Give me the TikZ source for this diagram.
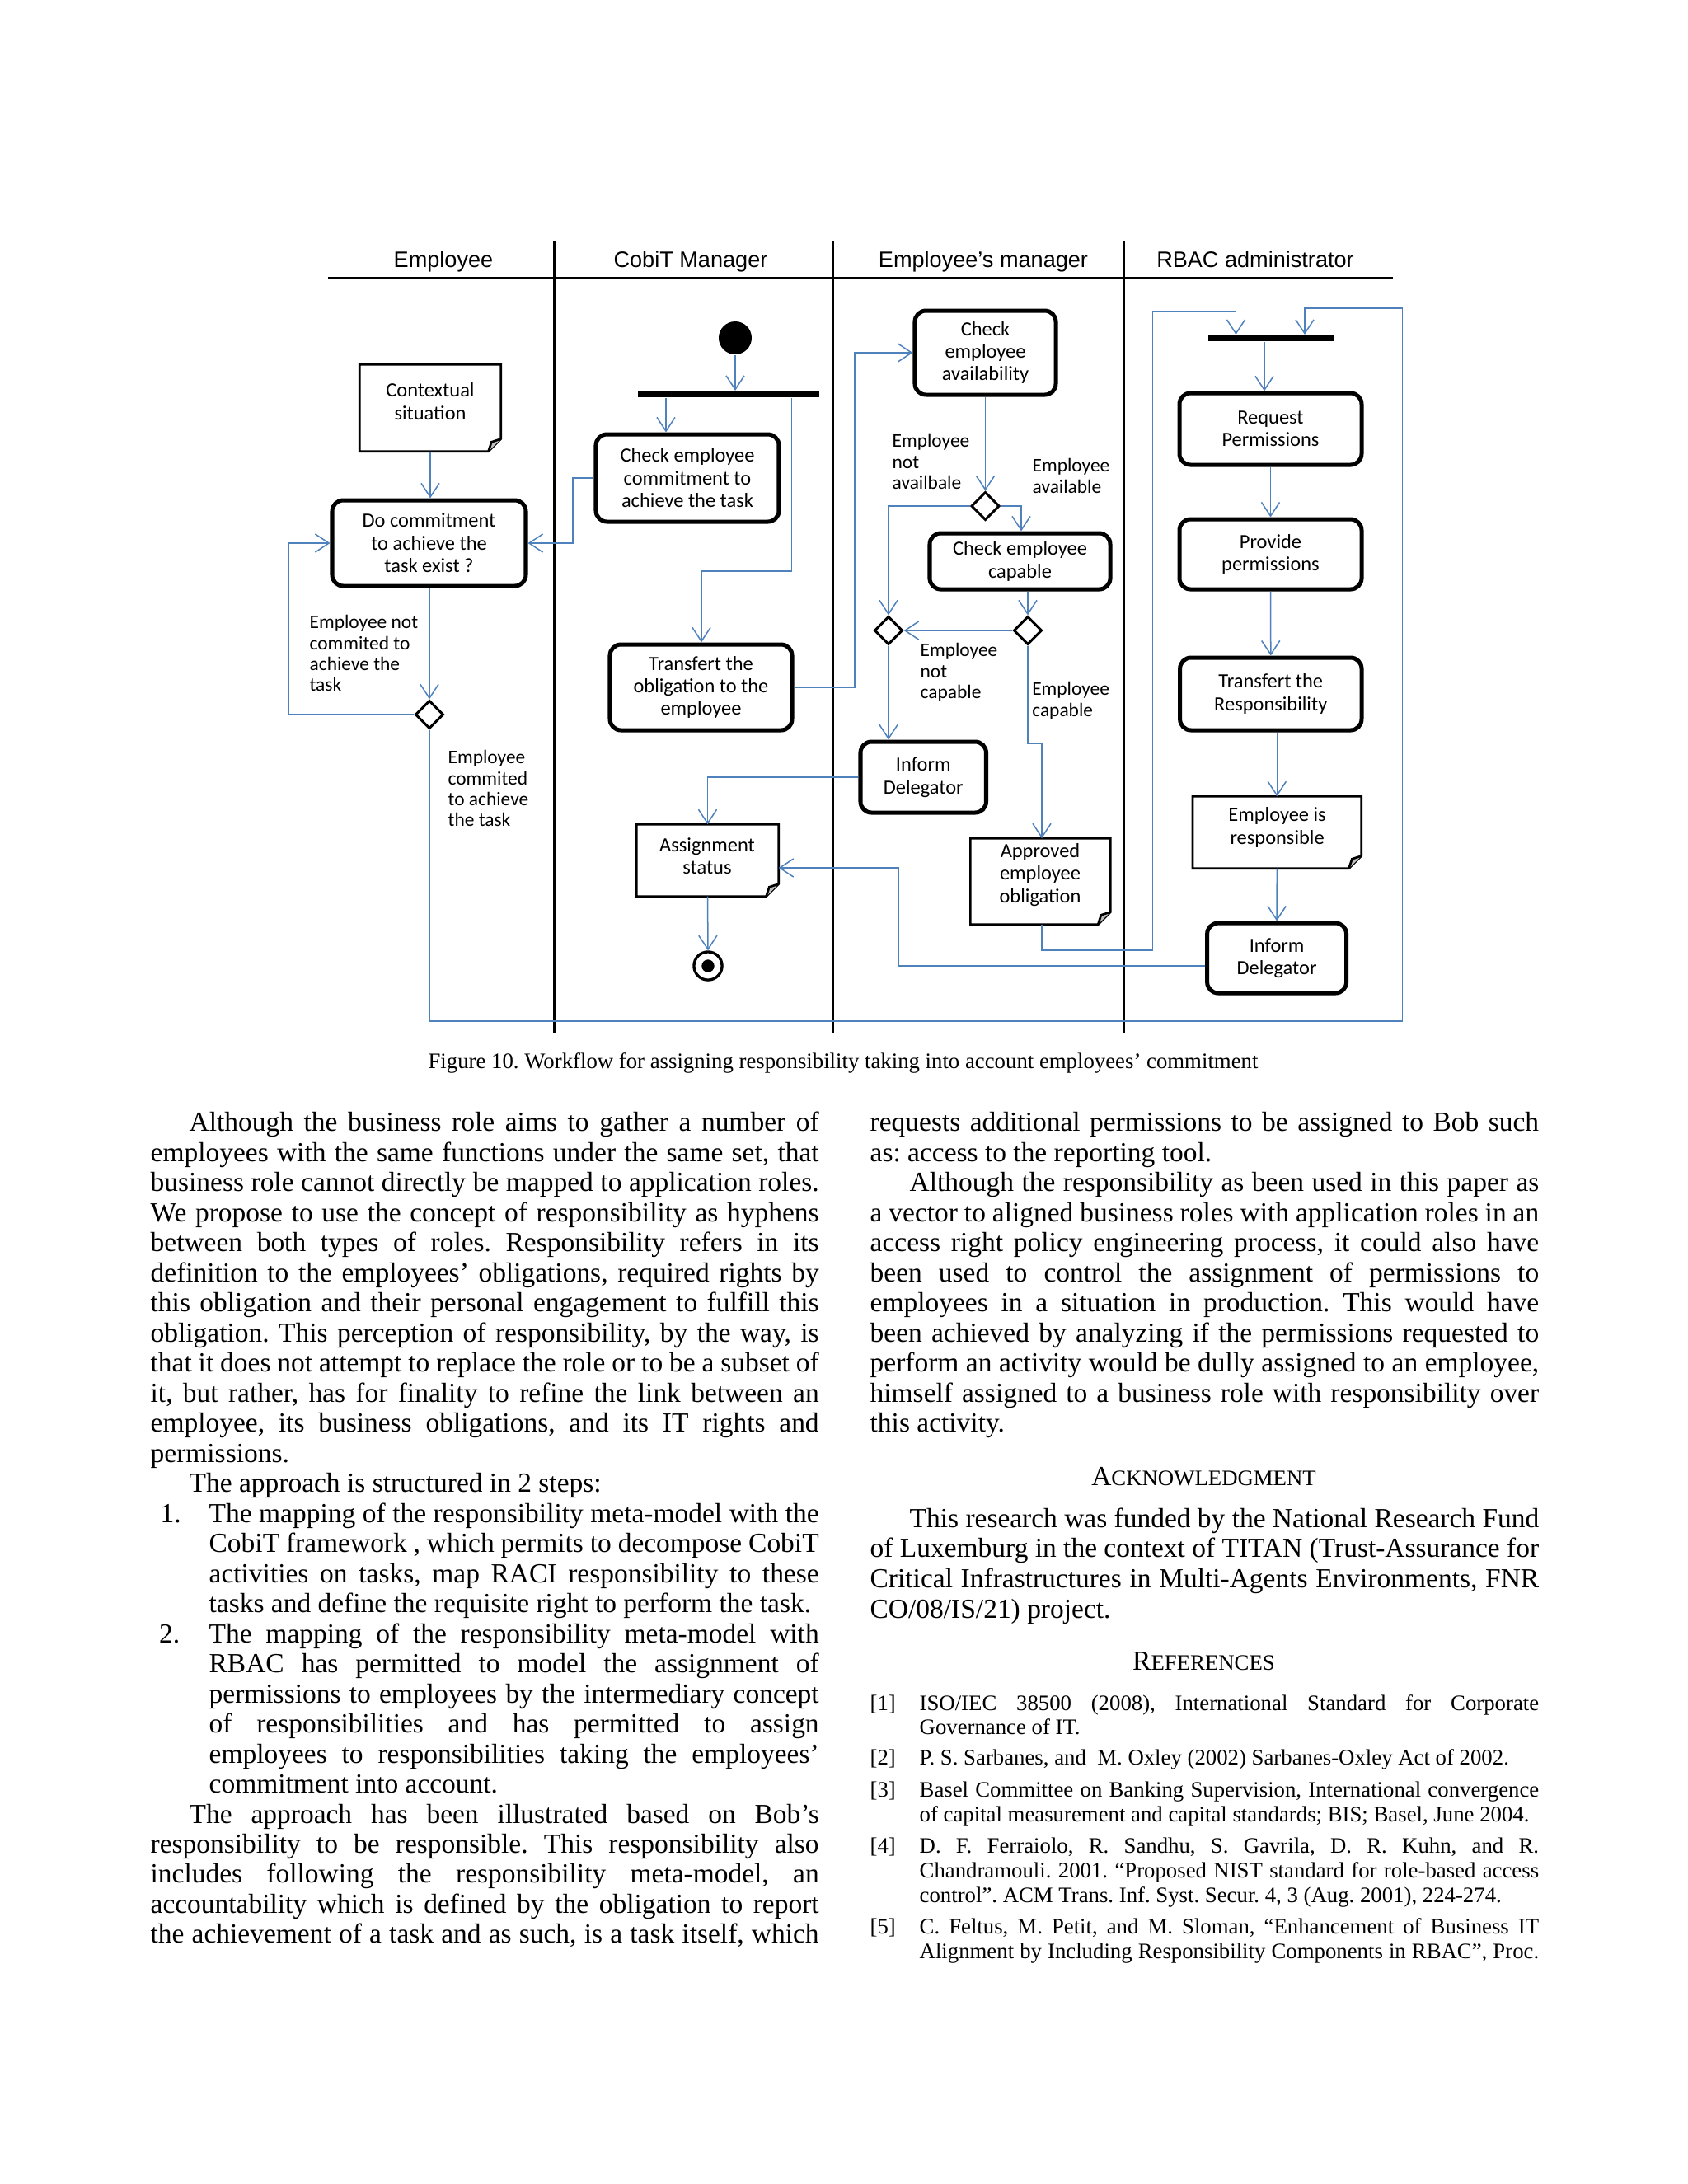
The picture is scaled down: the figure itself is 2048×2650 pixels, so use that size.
\documentclass[tikz,border=0pt]{standalone}
\usepackage{fontspec}
\setmainfont{Liberation Serif}
\newfontfamily\carl{Carlito}
\newfontfamily\arl{Liberation Sans}
\usetikzlibrary{arrows.meta,shapes.geometric}
\definecolor{flowblue}{HTML}{4F81BD}
\frenchspacing
\newcommand\actnode[6]{%
  \pgfmathsetmacro\bw{(#4-#2)*0.29883}%
  \pgfmathsetmacro\bh{(#5-#3)*0.29883}%
  \node[act,minimum width=\bw pt,minimum height=\bh pt] (#1) at ({(#2+#4)/2},{(#3+#5)/2}) {#6};}
\newcommand\notenode[8]{%
  \pgfmathsetmacro\bw{(#4-#2)*0.29883}%
  \pgfmathsetmacro\bh{(#5-#3)*0.29883}%
  \node[notebg,minimum width=\bw pt,minimum height=\bh pt] (#1) at ({(#2+#4)/2},{(#3+#5)/2}) {};
  \draw[noteline] (#1.north west) -- (#1.north east) -- ([yshift=4.5pt]#1.south east)
     -- ([xshift=-4.5pt]#1.south east) -- (#1.south west) -- cycle;
  \draw[noteline,fill=black!25] ([xshift=-4.5pt]#1.south east) -- ([xshift=-3.4pt,yshift=3.4pt]#1.south east)
     -- ([yshift=4.5pt]#1.south east);
  \node[ntext] (#1t) at (#6,#7) {#8};}
\newcommand\JL[6]{\node[#1] (#2) at (#3,#4) {\hbox to #5pt{#6}};}
\newcommand\RL[5]{\node[#1] (#2) at (#3,#4) {#5};}
\begin{document}
\begin{tikzpicture}[x=0.29883pt,y=-0.29883pt,
 act/.style={draw,line width=1.5pt,rounded corners=4pt,inner sep=0pt,align=center,font=\carl\fontsize{7.3}{8.2}\selectfont},
 notebg/.style={inner sep=0pt},
 noteline/.style={line width=0.8pt},
 ntext/.style={inner sep=0pt,align=center,font=\carl\fontsize{7.3}{8.2}\selectfont},
 lbl/.style={inner sep=0pt,align=left,anchor=north west,font=\carl\fontsize{7}{7.5}\selectfont},
 hdr/.style={inner sep=0pt,anchor=base,font=\arl\fontsize{8.1}{9.7}\selectfont},
 flow/.style={draw=flowblue,line width=0.45pt},
 arr/.style={flow,-{Straight Barb[length=5pt,width=6.6pt]}},
 dec/.style={diamond,draw,line width=0.9pt,inner sep=0pt,minimum width=10.2pt,minimum height=10.2pt},
 bar/.style={fill=black,inner sep=0pt,minimum height=2.3pt},
 lane/.style={line width=0.9pt},
 body/.style={inner sep=0pt,anchor=base west,font=\fontsize{10}{12}\selectfont},
 refs/.style={inner sep=0pt,anchor=base west,font=\fontsize{8}{9}\selectfont},
]
\fill[white] (0,0) rectangle (2048,2650);
\useasboundingbox (0,0) rectangle (2048,2650);

% ---------- swimlanes ----------
\draw[lane] (398,337) -- (1690,337);
\draw[lane] (673,293) -- (673,1253);
\draw[lane] (1010.5,293) -- (1010.5,1253);
\draw[lane] (1363,293) -- (1363,1253);
\node[hdr] (h1) at (538,324) {Employee};
\node[hdr] (h2) at (838,324) {CobiT Manager};
\node[hdr] (h3) at (1193,324) {Employee’s manager};
\node[hdr] (h4) at (1523,324) {RBAC administrator};

% ---------- nodes ----------
\node[circle,fill=black,inner sep=0pt,minimum size=11.95pt] (init) at (892,410) {};
\node[bar,minimum width=65.74pt] (bar1) at (884,478.5) {};
\node[bar,minimum width=45.27pt] (bar2) at (1541.75,410.5) {};

\actnode{chkcom}{723}{527}{945}{633}{Check employee\\commitment to\\achieve the task}
\actnode{docom}{403}{607}{638}{711}{Do commitment\\to achieve the\\task exist ?}
\actnode{trob}{740}{782}{961}{886}{Transfert the\\obligation to the\\employee}
\actnode{chkav}{1110}{377}{1281}{479}{Check\\employee\\availability}
\actnode{chkcap}{1128}{647}{1347}{715}{Check employee\\capable}
\actnode{infd1}{1044}{900}{1196.5}{986}{Inform\\Delegator}
\actnode{reqp}{1431}{477}{1652}{564}{Request\\Permissions}
\actnode{prov}{1431}{630}{1652}{715}{Provide\\permissions}
\actnode{trr}{1431.6}{798}{1652}{886}{Transfert the\\Responsibility}
\actnode{infd2}{1464.6}{1120}{1633.6}{1205}{Inform\\Delegator}

\notenode{cs}{437}{443}{607}{547}{522}{487}{Contextual\\situation}
\notenode{asg}{773}{1001}{944}{1087}{858}{1038.5}{Assignment\\status}
\notenode{appr}{1178}{1018}{1346.6}{1121}{1262}{1061.5}{Approved\\employee\\obligation}
\notenode{eir}{1447.6}{967}{1651}{1053}{1549.6}{1004}{Employee is\\responsible}

\node[dec] (dec1) at (521,867) {};
\node[dec] (dec2) at (1195.5,614) {};
\node[dec] (dec3) at (1078,765) {};
\node[dec] (dec4) at (1247,765) {};

\node[circle,draw,line width=1pt,inner sep=0pt,minimum size=10.2pt] (fin) at (859,1172) {};
\fill (fin.center) circle[radius=2.3pt];

\node[lbl] (l1) at (375,746) {Employee not\\commited to\\achieve the\\task};
\node[lbl] (l2) at (543,910) {Employee\\commited\\to achieve\\the task};
\node[lbl] (l3) at (1082,526) {Employee\\not\\availbale};
\node[lbl] (l4) at (1252,556) {Employee\\available};
\node[lbl] (l5) at (1116,780) {Employee\\not\\capable};
\node[lbl] (l6) at (1251.6,827) {Employee\\capable};

% ---------- connectors ----------
\coordinate (k808) at (808,0);
\coordinate (b3a) at (960.5,693); \coordinate (b3b) at (851,693);
\coordinate (b5) at (695,659);
\coordinate (b7) at (350,659);
\coordinate (b8a) at (1701.5,1239); \coordinate (b8b) at (1701.5,374); \coordinate (b8c) at (1583,374);
\coordinate (b9) at (1037,428);
\coordinate (k1239) at (1239,0);
\coordinate (b18) at (1264,902);
\coordinate (b19a) at (1398.5,1153); \coordinate (b19b) at (1398.5,378); \coordinate (b19c) at (1499.5,378);
\coordinate (k1534) at (1534,0);
\coordinate (b25a) at (1090.5,1172); \coordinate (b25b) at (1090.5,1053);

\draw[arr] (init.south) -- (init.south |- bar1.north);
\draw[arr] (bar1.south -| k808) -- (chkcom.north -| k808);
\draw[arr] (bar1.south -| b3a) -- (b3a) -- (b3b) -- (b3b |- trob.north);
\draw[arr] (cs.south) -- (cs.south |- docom.north);
\draw[arr] (chkcom.west) -| (b5) -- (docom.east);
\draw[arr] (docom.south -| dec1.north) -- (dec1.north);
\draw[arr] (dec1.west) -| (b7) -- (docom.west);
\draw[arr] (dec1.south) |- (b8a) -- (b8b) -- (b8c) -- (b8c |- bar2.north);
\draw[arr] (trob.east) -| (b9) -- (chkav.west);
\draw[arr] (chkav.south -| dec2.north) -- (dec2.north);
\draw[arr] (dec2.east) -| (chkcap.north -| k1239);
\draw[arr] (dec2.west) -| (dec3.north);
\draw[arr] (chkcap.south -| dec4.north) -- (dec4.north);
\draw[arr] (dec4.west) -- (dec3.east);
\draw[arr] (dec3.south) -- (dec3.south |- infd1.north);
\draw[arr] (infd1.west) -| (asg.north);
\draw[arr] (asg.south) -- (fin.north);
\draw[arr] (dec4.south) |- (b18) -- (b18 |- appr.north);
\draw[arr] (appr.south -| b18) |- (b19a) -- (b19b) -- (b19c) -- (b19c |- bar2.north);
\draw[arr] (bar2.south -| k1534) -- (reqp.north -| k1534);
\draw[arr] (reqp.south) -- (prov.north);
\draw[arr] (prov.south) -- (trr.north);
\draw[arr] (trr.south -| eir.north) -- (eir.north);
\draw[arr] (eir.south) -- (infd2.north);
\draw[arr] (b25a -| infd2.west) -- (b25a) -- (b25b) -- (b25b -| asg.east);

% ---------- caption ----------
\node[inner sep=0pt,anchor=base,font=\fontsize{8}{9.6}\selectfont] (cap) at (1023,1296.7)
  {Figure 10. Workflow for assigning responsibility taking into account employees’ commitment};

% ---------- left column ----------
\JL{body}{a0}{229}{1372.7+0*36.49}{228.31}{Although the business role aims to gather a number of}
\JL{body}{a1}{182}{1372.7+1*36.49}{242.35}{employees with the same functions under the same set, that}
\JL{body}{a2}{182}{1372.7+2*36.49}{242.35}{business role cannot directly be mapped to application roles.}
\JL{body}{a3}{182}{1372.7+3*36.49}{242.35}{We propose to use the concept of responsibility as hyphens}
\JL{body}{a4}{182}{1372.7+4*36.49}{242.35}{between both types of roles. Responsibility refers in its}
\JL{body}{a5}{182}{1372.7+5*36.49}{242.35}{definition to the employees’ obligations, required rights by}
\JL{body}{a6}{182}{1372.7+6*36.49}{242.35}{this obligation and their personal engagement to fulfill this}
\JL{body}{a7}{182}{1372.7+7*36.49}{242.35}{obligation. This perception of responsibility, by the way, is}
\JL{body}{a8}{182}{1372.7+8*36.49}{242.35}{that it does not attempt to replace the role or to be a subset of}
\JL{body}{a9}{182}{1372.7+9*36.49}{242.35}{it, but rather, has for finality to refine the link between an}
\JL{body}{a10}{182}{1372.7+10*36.49}{242.35}{employee, its business obligations, and its IT rights and}
\RL{body}{a11}{182}{1372.7+11*36.49}{permissions.}
\RL{body}{a12}{229}{1372.7+12*36.49}{The approach is structured in 2 steps:}
\RL{body}{n1}{194}{1372.7+13*36.49}{1.}
\JL{body}{a13}{253}{1372.7+13*36.49}{221.13}{The mapping of the responsibility meta-model with the}
\JL{body}{a14}{253}{1372.7+14*36.49}{221.13}{CobiT framework , which permits to decompose CobiT}
\JL{body}{a15}{253}{1372.7+15*36.49}{221.13}{activities on tasks, map RACI responsibility to these}
\RL{body}{a16}{253}{1372.7+16*36.49}{tasks and define the requisite right to perform the task.}
\RL{body}{n2}{192.5}{1372.7+17*36.49}{2.}
\JL{body}{a17}{253}{1372.7+17*36.49}{221.13}{The mapping of the responsibility meta-model with}
\JL{body}{a18}{253}{1372.7+18*36.49}{221.13}{RBAC has permitted to model the assignment of}
\JL{body}{a19}{253}{1372.7+19*36.49}{221.13}{permissions to employees by the intermediary concept}
\JL{body}{a20}{253}{1372.7+20*36.49}{221.13}{of responsibilities and has permitted to assign}
\JL{body}{a21}{253}{1372.7+21*36.49}{221.13}{employees to responsibilities taking the employees’}
\RL{body}{a22}{253}{1372.7+22*36.49}{commitment into account.}
\JL{body}{a23}{229}{1372.7+23*36.49}{228.31}{The approach has been illustrated based on Bob’s}
\JL{body}{a24}{182}{1372.7+24*36.49}{242.35}{responsibility to be responsible. This responsibility also}
\JL{body}{a25}{182}{1372.7+25*36.49}{242.35}{includes following the responsibility meta-model, an}
\JL{body}{a26}{182}{1372.7+26*36.49}{242.35}{accountability which is defined by the obligation to report}
\JL{body}{a27}{182}{1372.7+27*36.49}{242.35}{the achievement of a task and as such, is a task itself, which}

% ---------- right column ----------
\JL{body}{r0}{1055}{1372.7+0*36.49}{242.5}{requests additional permissions to be assigned to Bob such}
\RL{body}{r1}{1055}{1372.7+1*36.49}{as: access to the reporting tool.}
\JL{body}{r2}{1103}{1372.7+2*36.49}{228.2}{Although the responsibility as been used in this paper as}
\JL{body}{r3}{1055}{1372.7+3*36.49}{242.5}{a vector to aligned business roles with application roles in an}
\JL{body}{r4}{1055}{1372.7+4*36.49}{242.5}{access right policy engineering process, it could also have}
\JL{body}{r5}{1055}{1372.7+5*36.49}{242.5}{been used to control the assignment of permissions to}
\JL{body}{r6}{1055}{1372.7+6*36.49}{242.5}{employees in a situation in production. This would have}
\JL{body}{r7}{1055}{1372.7+7*36.49}{242.5}{been achieved by analyzing if the permissions requested to}
\JL{body}{r8}{1055}{1372.7+8*36.49}{242.5}{perform an activity would be dully assigned to an employee,}
\JL{body}{r9}{1055}{1372.7+9*36.49}{242.5}{himself assigned to a business role with responsibility over}
\RL{body}{r10}{1055}{1372.7+10*36.49}{this activity.}

\node[inner sep=0pt,anchor=base] (ack) at (1460.5,1802.7)
  {{\fontsize{10}{12}\selectfont A}{\fontsize{8}{10}\selectfont CKNOWLEDGMENT}};
\JL{body}{k0}{1103}{1853.3}{228.2}{This research was funded by the National Research Fund}
\JL{body}{k1}{1055}{1889.9}{242.5}{of Luxemburg in the context of TITAN (Trust-Assurance for}
\JL{body}{k2}{1055}{1926.5}{242.5}{Critical Infrastructures in Multi-Agents Environments, FNR}
\RL{body}{k3}{1055}{1963.1}{CO/08/IS/21) project.}

\node[inner sep=0pt,anchor=base] (refh) at (1460.5,2026.7)
  {{\fontsize{10}{12}\selectfont R}{\fontsize{8}{10}\selectfont EFERENCES}};

\RL{refs}{f1}{1055}{2075}{[1]}
\JL{refs}{f1a}{1115}{2075}{224.57}{ISO/IEC 38500 (2008), International Standard for Corporate}
\RL{refs}{f1b}{1115}{2104.5}{Governance of IT.}
\RL{refs}{f2}{1055}{2141.7}{[2]}
\RL{refs}{f2a}{1115}{2141.7}{P. S. Sarbanes, and \ M. Oxley (2002) Sarbanes-Oxley Act of 2002.}
\RL{refs}{f3}{1055}{2180}{[3]}
\JL{refs}{f3a}{1115}{2180}{224.57}{Basel Committee on Banking Supervision, International convergence}
\RL{refs}{f3b}{1115}{2210}{of capital measurement and capital standards; BIS; Basel, June 2004.}
\RL{refs}{f4}{1055}{2248.3}{[4]}
\JL{refs}{f4a}{1115}{2248.3}{224.57}{D. F. Ferraiolo, R. Sandhu, S. Gavrila, D. R. Kuhn, and R.}
\JL{refs}{f4b}{1115}{2278.3}{224.57}{Chandramouli. 2001. “Proposed NIST standard for role-based access}
\RL{refs}{f4c}{1115}{2308.3}{control”. ACM Trans. Inf. Syst. Secur. 4, 3 (Aug. 2001), 224-274.}
\RL{refs}{f5}{1055}{2346.7}{[5]}
\JL{refs}{f5a}{1115}{2346.7}{224.57}{C. Feltus, M. Petit, and M. Sloman, “Enhancement of Business IT}
\JL{refs}{f5b}{1115}{2376.7}{224.57}{Alignment by Including Responsibility Components in RBAC”, Proc.}
\end{tikzpicture}
\end{document}
